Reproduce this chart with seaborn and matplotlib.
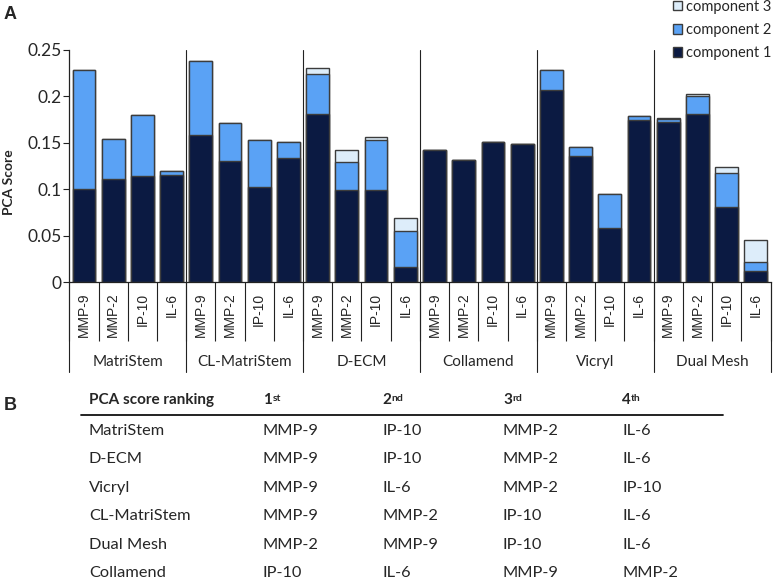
import numpy as np
import pandas as pd
import matplotlib
matplotlib.use("Agg")
import matplotlib.pyplot as plt
import matplotlib.transforms as mtransforms
from matplotlib.lines import Line2D
from matplotlib.patches import Patch
from matplotlib.text import Annotation
import seaborn as sns

# ---- data ----
groups = ["MatriStem", "CL-MatriStem", "D-ECM", "Collamend", "Vicryl", "Dual Mesh"]
markers = ["MMP-9", "MMP-2", "IP-10", "IL-6"]

comp1 = [0.100, 0.111, 0.114, 0.116,
         0.158, 0.131, 0.103, 0.134,
         0.181, 0.099, 0.099, 0.016,
         0.142, 0.132, 0.151, 0.149,
         0.207, 0.136, 0.058, 0.175,
         0.172, 0.181, 0.081, 0.0125]
comp2 = [0.128, 0.043, 0.066, 0.004,
         0.080, 0.040, 0.050, 0.017,
         0.043, 0.031, 0.054, 0.039,
         0.0, 0.0, 0.0, 0.0,
         0.021, 0.010, 0.037, 0.004,
         0.004, 0.019, 0.037, 0.0097]
comp3 = [0.0, 0.0, 0.0, 0.0,
         0.0, 0.0, 0.0, 0.0,
         0.007, 0.012, 0.003, 0.014,
         0.0, 0.0, 0.0, 0.0,
         0.0, 0.0, 0.0, 0.0,
         0.001, 0.003, 0.006, 0.0234]

ytick_values = [0, 0.05, 0.1, 0.15, 0.2, 0.25]
ytick_labels = ["0", "0.05", "0.1", "0.15", "0.2", "0.25"]

table_header = ["PCA score ranking", "1", "2", "3", "4"]
table_sup = ["", "st", "nd", "rd", "th"]
table_rows = ["MatriStem", "D-ECM", "Vicryl", "CL-MatriStem", "Dual Mesh", "Collamend"]
rank_1st = ["MMP-9", "MMP-9", "MMP-9", "MMP-9", "MMP-2", "IP-10"]
rank_2nd = ["IP-10", "IP-10", "IL-6", "MMP-2", "MMP-9", "IL-6"]
rank_3rd = ["MMP-2", "MMP-2", "MMP-2", "IP-10", "IP-10", "MMP-9"]
rank_4th = ["IL-6", "IL-6", "IP-10", "IL-6", "IL-6", "MMP-2"]

C1 = "#0b1a42"
C2 = "#5aa2f5"
C3 = "#ddedfa"
EDGE = "#3c3c3c"

sns.set_theme(style="white")
plt.rcParams["font.family"] = ["Lato", "DejaVu Sans"]

df = pd.DataFrame({
    "group": np.repeat(groups, len(markers)),
    "marker": markers * len(groups),
    "c1": comp1, "c2": comp2, "c3": comp3,
})
df["bar"] = df["group"] + ":" + df["marker"]
df["s12"] = df["c1"] + df["c2"]
df["s123"] = df["s12"] + df["c3"]

W, H = 777, 582
fig = plt.figure(figsize=(W / 100, H / 100), dpi=100)
x0, x1, ytop, ybot = 69.3, 770.5, 50.0, 282.3
ax = fig.add_axes([x0 / W, 1 - ybot / H, (x1 - x0) / W, (ybot - ytop) / H])

# stacked bars drawn back to front
for col, c in [("s123", C3), ("s12", C2), ("c1", C1)]:
    sns.barplot(data=df, x="bar", y=col, order=list(df["bar"]), color=c,
                saturation=1, width=0.78, edgecolor=EDGE, linewidth=1,
                errorbar=None, ax=ax)

n = len(df)
ax.set_xlim(-0.5, n - 0.5)
ax.set_ylim(0, 0.25)
ax.set_xlabel("")
ax.set_ylabel("")
sns.despine(ax=ax, top=True, right=True)
for s in ["left", "bottom"]:
    ax.spines[s].set_color("#222222")
    ax.spines[s].set_linewidth(0.9)

ax.set_yticks(ytick_values)
ax.set_yticklabels(ytick_labels, fontsize=12.5)
ax.tick_params(axis="y", length=4.3, width=0.8, color="#222222", pad=1, left=True)

ax.set_xticks(range(n))
ax.set_xticklabels(df["marker"], rotation=90, fontsize=10, family="Liberation Sans")
ax.tick_params(axis="x", which="major", length=0, pad=7.5, bottom=True)
ax.set_xticks(np.arange(-0.5, n, 1), minor=True)
ax.tick_params(axis="x", which="minor", length=42.8, width=0.8, color="#222222", bottom=True)

# group separators and group labels
trans = mtransforms.blended_transform_factory(ax.transData, ax.transAxes)
low = -(371.7 - ybot) / (ybot - ytop)
k = len(markers)
for i in range(len(groups) + 1):
    b = i * k - 0.5
    top = 1 if 0 < i < len(groups) else 0
    ax.add_line(Line2D([b, b], [top, low], transform=trans, color="#222222",
                       lw=0.8, clip_on=False))
lab_y = -(361.7 - ybot) / (ybot - ytop)
for i, g in enumerate(groups):
    ax.text(i * k + (k - 1) / 2, lab_y, g, transform=trans, ha="center",
            va="center", fontsize=11)

fig.text(9 / W, 1 - 182.5 / H, "PCA Score", rotation=90, ha="center",
         va="center", fontsize=10, fontweight="bold")
fig.text(4 / W, 1 - 6 / H, "A", fontsize=13, fontweight="bold",
         family="Liberation Sans", ha="left", va="top")
fig.text(4 / W, 1 - 397 / H, "B", fontsize=13, fontweight="bold",
         family="Liberation Sans", ha="left", va="top")

handles = [Patch(facecolor=C3, edgecolor=EDGE, lw=1),
           Patch(facecolor=C2, edgecolor=EDGE, lw=1),
           Patch(facecolor=C1, edgecolor=EDGE, lw=1)]
fig.legend(handles, ["component 3", "component 2", "component 1"],
           loc="upper left", bbox_to_anchor=(673 / W, 1 - 0 / H),
           frameon=False, fontsize=10.5, handlelength=0.6, handleheight=0.6,
           handletextpad=0.3, labelspacing=0.62, borderpad=0, borderaxespad=0)

# table B
col_x = [89, 263, 382, 503, 622]
head_y = 400
for j, (txt, sup) in enumerate(zip(table_header, table_sup)):
    t = fig.text(col_x[j] / W, 1 - head_y / H, txt, fontsize=11,
                 fontweight="bold", ha="left", va="center")
    if sup:
        fig.add_artist(Annotation(sup, xy=(1.05, 0.95), xycoords=t, fontsize=7.5,
                                  fontweight="bold", ha="left", va="top",
                                  annotation_clip=False))
fig.add_artist(Line2D([81 / W, 723 / W], [1 - 414.7 / H] * 2,
                      transform=fig.transFigure, color="#111111", lw=1.3))
cols = [table_rows, rank_1st, rank_2nd, rank_3rd, rank_4th]
for i in range(len(table_rows)):
    y = 431 + 28.4 * i
    for j, col in enumerate(cols):
        fig.text(col_x[j] / W, 1 - y / H, col[i], fontsize=11.8, ha="left",
                 va="center")

fig.savefig("out.png", dpi=100)
